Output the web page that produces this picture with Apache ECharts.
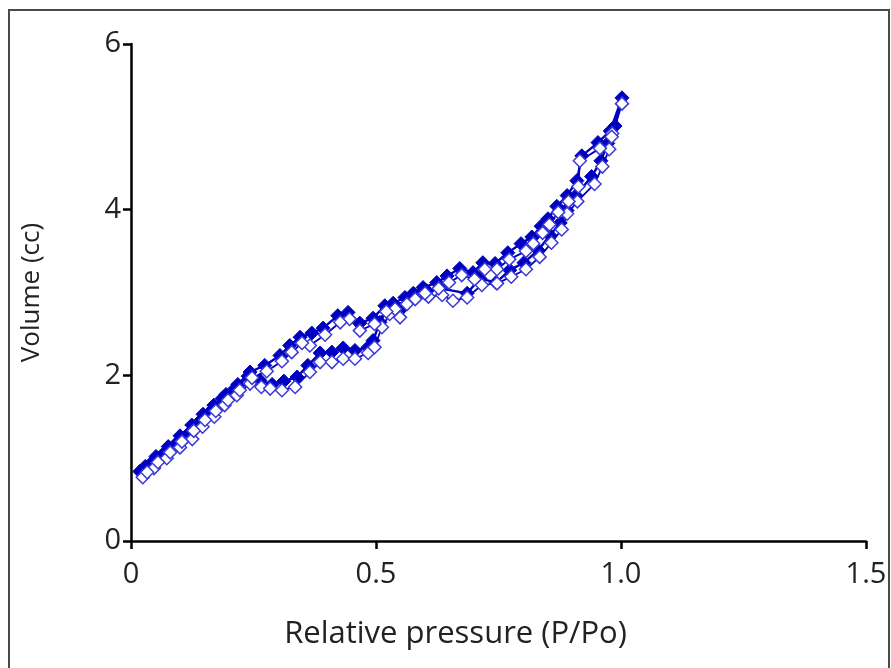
<!DOCTYPE html>
<html>
<head>
<meta charset="utf-8">
<script src="https://cdn.jsdelivr.net/npm/echarts@6/dist/echarts.min.js"></script>
<style>
   html, body { margin: 0; padding: 0; background: #ffffff; }
   #chart { width: 891px; height: 668px; }
</style>
</head>
<body>
<div id="chart"></div>
<script>
// ── Data ─────────────────────────────────────────────────────────────────────
const xTicks = [0, 0.5, 1.0, 1.5];
const xTickLabels = ["0", "0.5", "1.0", "1.5"];
const yTicks = [0, 2, 4, 6];

// filled diamonds: up along the lower branch, back down along the upper one
const filledLoop = [
   [0.018, 0.84], [0.043, 0.95], [0.069, 1.07], [0.096, 1.20], [0.120, 1.31], [0.141, 1.45],
   [0.165, 1.58], [0.186, 1.72], [0.212, 1.84], [0.239, 1.99], [0.263, 1.94], [0.288, 1.89],
   [0.312, 1.93], [0.339, 1.98], [0.361, 2.12], [0.386, 2.27], [0.410, 2.28], [0.433, 2.33],
   [0.457, 2.30], [0.484, 2.34], [0.494, 2.42], [0.508, 2.64], [0.524, 2.81], [0.549, 2.80],
   [0.576, 2.99], [0.604, 3.02], [0.631, 3.05], [0.686, 2.99], [0.712, 3.17], [0.745, 3.12],
   [0.773, 3.27], [0.802, 3.36], [0.831, 3.51], [0.855, 3.69], [0.876, 3.84], [0.890, 3.99],
   [0.908, 4.17], [0.940, 4.40], [0.959, 4.59], [0.973, 4.80], [0.988, 5.01], [1.002, 5.35],
   [0.978, 4.95], [0.953, 4.81], [0.920, 4.65], [0.910, 4.35], [0.890, 4.17], [0.869, 4.04],
   [0.851, 3.89], [0.837, 3.80], [0.818, 3.67], [0.796, 3.59], [0.769, 3.48], [0.743, 3.35],
   [0.718, 3.36], [0.698, 3.24], [0.671, 3.29], [0.645, 3.20], [0.624, 3.12], [0.596, 3.06],
   [0.559, 2.94], [0.535, 2.87], [0.518, 2.84], [0.494, 2.69], [0.467, 2.63], [0.443, 2.76],
   [0.422, 2.72], [0.392, 2.57], [0.369, 2.51], [0.345, 2.46], [0.324, 2.36], [0.304, 2.24],
   [0.273, 2.12], [0.243, 2.04], [0.218, 1.89], [0.194, 1.77], [0.169, 1.64], [0.147, 1.53],
   [0.124, 1.40], [0.100, 1.27], [0.076, 1.14], [0.051, 1.02], [0.029, 0.90]
];

// open diamonds: same loop, sitting a little lower
const openLoop = [
   [0.024, 0.77], [0.047, 0.88], [0.073, 1.00], [0.100, 1.13], [0.125, 1.23], [0.146, 1.38],
   [0.170, 1.50], [0.191, 1.64], [0.216, 1.76], [0.243, 1.90], [0.266, 1.86], [0.284, 1.84],
   [0.308, 1.82], [0.335, 1.86], [0.365, 2.04], [0.386, 2.16], [0.410, 2.16], [0.433, 2.20],
   [0.457, 2.20], [0.484, 2.27], [0.497, 2.34], [0.512, 2.58], [0.528, 2.74], [0.549, 2.70],
   [0.580, 2.92], [0.607, 2.95], [0.635, 2.97], [0.657, 2.90], [0.686, 2.94], [0.716, 3.09],
   [0.747, 3.11], [0.776, 3.19], [0.806, 3.28], [0.834, 3.43], [0.858, 3.60], [0.879, 3.76],
   [0.890, 3.95], [0.911, 4.10], [0.946, 4.31], [0.962, 4.52], [0.976, 4.73], [0.982, 4.92],
   [1.002, 5.28],
   [0.981, 4.88], [0.957, 4.74], [0.916, 4.59], [0.913, 4.28], [0.893, 4.10], [0.872, 3.97],
   [0.854, 3.82], [0.840, 3.72], [0.821, 3.59], [0.806, 3.50], [0.772, 3.40], [0.747, 3.28],
   [0.722, 3.28], [0.701, 3.16], [0.675, 3.21], [0.649, 3.12], [0.628, 3.05], [0.600, 2.99],
   [0.563, 2.86], [0.539, 2.80], [0.521, 2.77], [0.497, 2.62], [0.467, 2.54], [0.446, 2.68],
   [0.427, 2.64], [0.396, 2.49], [0.365, 2.36], [0.349, 2.39], [0.328, 2.28], [0.308, 2.17],
   [0.277, 2.05], [0.247, 1.97], [0.222, 1.82], [0.198, 1.70], [0.173, 1.57], [0.151, 1.46],
   [0.128, 1.33], [0.104, 1.20], [0.080, 1.07], [0.055, 0.95], [0.033, 0.83]
];

// ── Styles ───────────────────────────────────────────────────────────────────
const colors = {
   blue: "#0000c0",
   blueOpen: "#3a3ad6",
   axis: "#000000",
   text: "#222222",
   frame: "#4a4a4a",
   white: "#ffffff"
};
const fontFamily = "'Open Sans', Lato, sans-serif";

const axisLineBase = { show: true, lineStyle: { color: colors.axis, width: 2.5 } };
const axisTickBase = { show: true, inside: false, length: 8, lineStyle: { color: colors.axis, width: 2.5 } };

const chart = echarts.init(document.getElementById("chart"));

chart.setOption({
   animation: false,
   backgroundColor: colors.white,
   graphic: [
      {
         type: "rect",
         shape: { x: 9, y: 10, width: 880, height: 670 },
         style: { fill: "none", stroke: colors.frame, lineWidth: 2 },
         silent: true
      }
   ],
   grid: { left: 131, right: 25, top: 44, bottom: 127 },
   xAxis: {
      type: "value",
      min: xTicks[0],
      max: xTicks[xTicks.length - 1],
      interval: 0.5,
      name: "Relative pressure (P/Po)",
      nameLocation: "middle",
      nameGap: 78,
      // title sits left of the plot centre in the reference
      nameTextStyle: { fontSize: 31, color: colors.text, fontFamily, padding: [0, 86, 0, 0] },
      axisLine: axisLineBase,
      axisTick: axisTickBase,
      splitLine: { show: false },
      axisLabel: {
         margin: 19,
         fontSize: 29,
         color: colors.text,
         fontFamily,
         formatter: (v) => {
            const i = xTicks.findIndex(t => Math.abs(t - v) < 1e-9);
            return i >= 0 ? xTickLabels[i] : "";
         }
      }
   },
   yAxis: {
      type: "value",
      min: yTicks[0],
      max: yTicks[yTicks.length - 1],
      interval: 2,
      name: "Volume (cc)",
      nameLocation: "middle",
      nameGap: 86,
      nameTextStyle: { fontSize: 26, color: colors.text, fontFamily },
      axisLine: axisLineBase,
      axisTick: axisTickBase,
      splitLine: { show: false },
      axisLabel: { margin: 10, fontSize: 29, color: colors.text, fontFamily }
   },
   series: [
      {
         name: "filled",
         type: "line",
         data: filledLoop,
         symbol: "diamond",
         symbolSize: 14,
         showAllSymbol: true,
         z: 2,
         lineStyle: { color: colors.blue, width: 2.4 },
         itemStyle: { color: colors.blue, borderColor: colors.blue, borderWidth: 1 }
      },
      {
         name: "open",
         type: "line",
         data: openLoop,
         symbol: "diamond",
         symbolSize: 13,
         showAllSymbol: true,
         z: 3,
         lineStyle: { color: colors.blue, width: 1.8 },
         itemStyle: { color: colors.white, borderColor: colors.blueOpen, borderWidth: 1.5 }
      }
   ]
});
</script>
</body>
</html>
